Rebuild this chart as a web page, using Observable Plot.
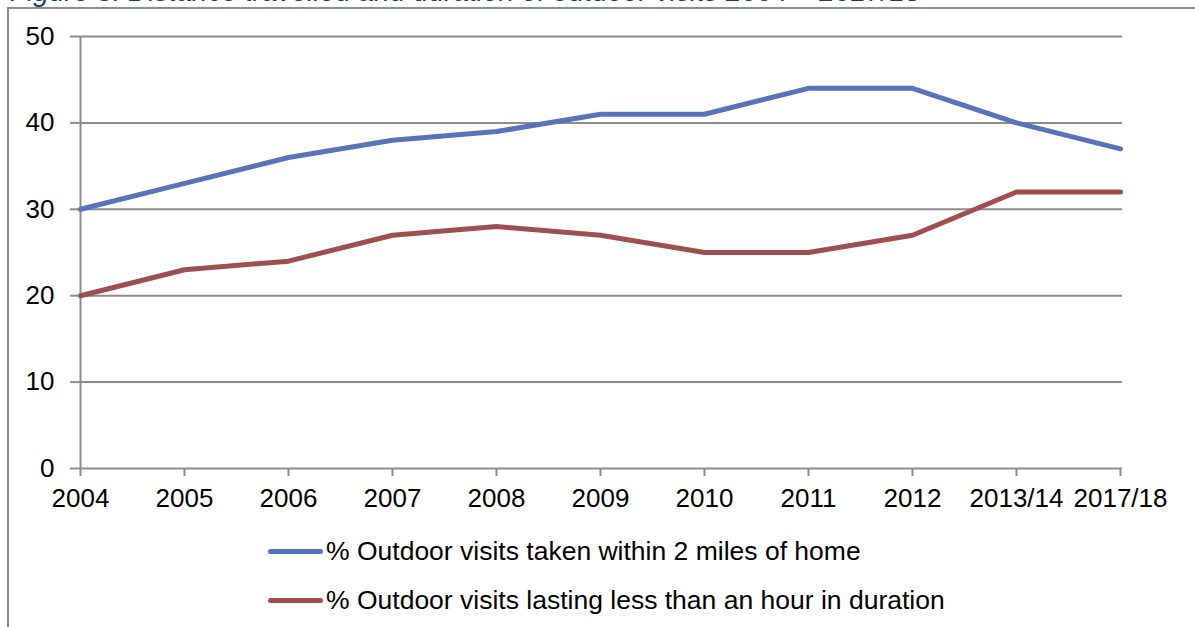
<!DOCTYPE html>
<html>
<head>
<meta charset="utf-8">
<script src="https://cdn.jsdelivr.net/npm/d3@7"></script>
<script src="https://cdn.jsdelivr.net/npm/@observablehq/plot@0.6"></script>
<style>
  body { margin: 0; background: #fff; font-family: "Liberation Sans", Arial, sans-serif; }
  #wrap { position: relative; width: 1195px; height: 627px; overflow: hidden; background: #fff; }
  #title {
    position: absolute; left: 10px; top: -22px; margin: 0;
    font-size: 28px; line-height: 28px; font-style: italic; font-weight: normal;
    color: #1f3864; white-space: nowrap;
  }
  #frame {
    position: absolute; left: 7px; top: 7px; right: -4px; bottom: -4px;
    border-top: 2px solid #8c8c8c; border-left: 2px solid #8c8c8c;
  }
  #chart { position: absolute; left: 0; top: 0; }
  .legend-item {
    position: absolute; left: 268px; height: 30px;
    display: flex; align-items: center; font-size: 26.5px; color: #000; white-space: nowrap;
  }
  .swatch { width: 55px; height: 5px; border-radius: 3px; margin-right: 3px; }
</style>
</head>
<body>
<div id="wrap">
  <h2 id="title">Figure 3: Distance travelled and duration of outdoor visits 2004 – 2017/18</h2>
  <div id="frame"></div>
  <div id="chart"></div>
  <div id="legend"></div>
</div>
<script>
// Survey periods along the x axis
const periods = ["2004", "2005", "2006", "2007", "2008", "2009", "2010", "2011", "2012", "2013/14", "2017/18"];

// % of outdoor visits taken within 2 miles of home
const withinTwoMiles = [30, 33, 36, 38, 39, 41, 41, 44, 44, 40, 37];

// % of outdoor visits lasting less than an hour
const underAnHour = [20, 23, 24, 27, 28, 27, 25, 25, 27, 32, 32];

const yTicks = [0, 10, 20, 30, 40, 50];

const seriesNames = [
  "% Outdoor visits taken within 2 miles of home",
  "% Outdoor visits lasting less than an hour in duration"
];
const seriesColors = ["#5873b9", "#a04f4f"];

const nearRows = periods.map((p, i) => ({period: p, value: withinTwoMiles[i]}));
const shortRows = periods.map((p, i) => ({period: p, value: underAnHour[i]}));

const axisGrey = "#8c8c8c";

const chart = Plot.plot({
  width: 1195,
  height: 515,
  marginLeft: 78,
  marginRight: 73,
  marginTop: 36,
  marginBottom: 47,
  style: {
    fontFamily: "'Liberation Sans', Arial, sans-serif",
    fontSize: "26px",
    color: "#000",
    background: "transparent",
    overflow: "visible"
  },
  x: {type: "point", domain: periods, padding: 0, label: null},
  y: {domain: [0, 50], label: null},
  marks: [
    Plot.ruleY(yTicks, {stroke: axisGrey, strokeWidth: 2}),
    Plot.ruleX([periods[0]], {y1: 0, y2: 50, stroke: axisGrey, strokeWidth: 2}),
    Plot.axisY({ticks: yTicks, tickSize: 8, tickPadding: 16, stroke: axisGrey, strokeWidth: 2, fill: "#000", label: null}),
    Plot.axisX({tickSize: 8, tickPadding: 12, stroke: axisGrey, strokeWidth: 2, fill: "#000", label: null}),
    Plot.line(nearRows, {x: "period", y: "value", stroke: seriesColors[0], strokeWidth: 5, strokeLinecap: "round", strokeLinejoin: "round"}),
    Plot.line(shortRows, {x: "period", y: "value", stroke: seriesColors[1], strokeWidth: 5, strokeLinecap: "round", strokeLinejoin: "round"})
  ]
});
document.getElementById("chart").appendChild(chart);

// Legend below the plot
const legend = document.getElementById("legend");
const legendTops = [536, 585];
seriesNames.forEach((name, i) => {
  const item = document.createElement("div");
  item.className = "legend-item";
  item.style.top = legendTops[i] + "px";
  const sw = document.createElement("span");
  sw.className = "swatch";
  sw.style.background = seriesColors[i];
  const label = document.createElement("span");
  label.textContent = name;
  item.appendChild(sw);
  item.appendChild(label);
  legend.appendChild(item);
});
</script>
</body>
</html>
